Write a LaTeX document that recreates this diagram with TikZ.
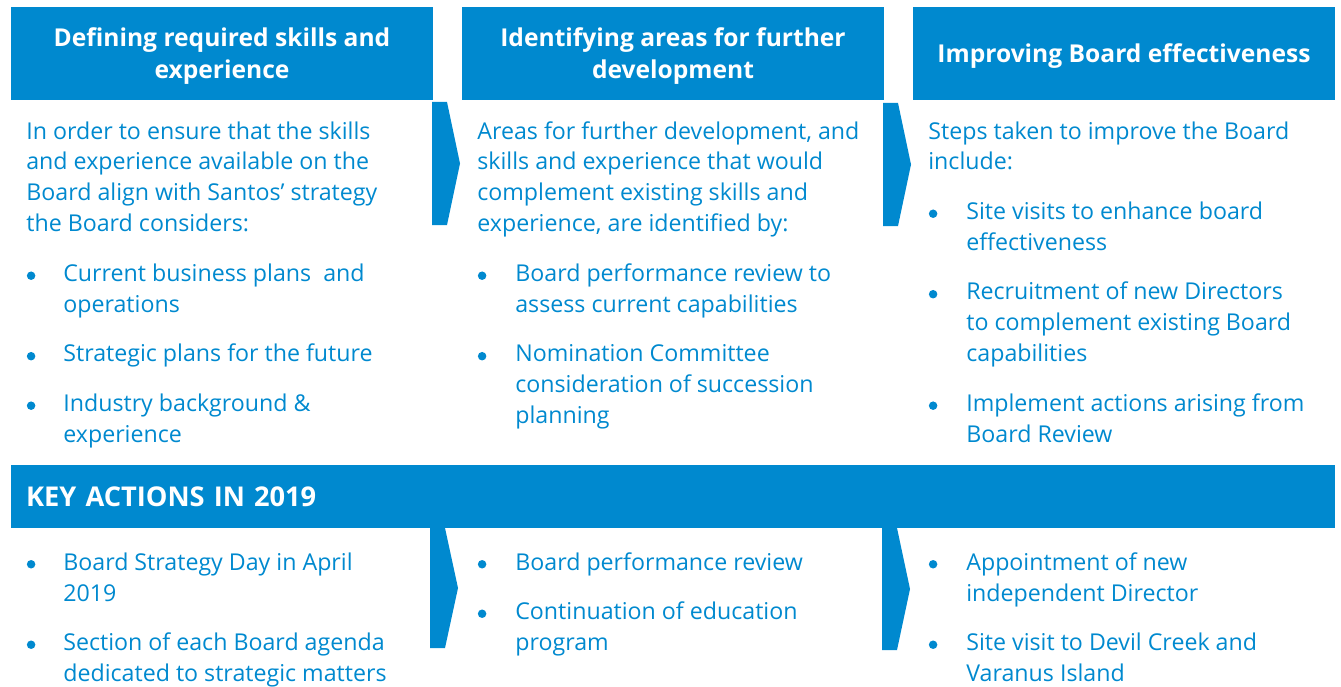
\documentclass[tikz,border=0pt]{standalone}
\usepackage{fontspec}
\setmainfont{Open Sans}
\usepackage{array}
\usetikzlibrary{positioning}
\definecolor{santosblue}{RGB}{0,137,207}
\def\itemgap{0.37cm}
\newcommand{\wide}[1]{\multicolumn{2}{@{}l@{}}{#1}}
\newcommand{\blt}{\hspace{0.01cm}\tikz[baseline=0pt]\fill[santosblue] (0.085cm,0.115cm) circle (0.085cm);}

\begin{document}
\begin{tikzpicture}[x=0.02cm,y=-0.02cm]
    \tikzstyle{headbox}=[fill=santosblue,text=white,font=\fontsize{14}{18.2}\selectfont\bfseries,minimum width=8.44cm,minimum height=1.86cm,align=center,inner sep=0pt,text depth=0pt]
    \tikzstyle{body}=[text=santosblue,font=\fontsize{13.2}{17.64}\selectfont,anchor=base west,inner sep=0pt]
    \tikzstyle{chevron}=[fill=santosblue]

    \useasboundingbox (0,0) rectangle (1341,686);

    % Draw the column headers
    \node[headbox] (head1) at (222,53.5) {Defining required skills and\\experience};
    \node[headbox] (head2) at (673,53.5) {Identifying areas for further\\development};
    \node[headbox] (head3) at (1124,53.5) {Improving Board effectiveness};

    % Draw the key actions bar
    \node[headbox,font=\fontsize{15.5}{18.2}\selectfont\bfseries,minimum width=26.48cm,minimum height=1.26cm,text width=25.88cm,align=left] (keybar) at (673,496.5) {KEY ACTIONS IN 2019};

    % Draw the chevrons between the columns
    \foreach \x / \yt / \yb in {432/102/225, 883/103/226, 430/528/648, 882/528/650}
        \fill[chevron] (\x,\yt) -- ++(15,0) -- ({\x+28},{(\yt+\yb)/2}) -- ({\x+15},\yb) -- (\x,\yb) -- cycle;

    % Text of the upper columns
    \node[body] (intro1) at (26,139) {\begin{tabular}[t]{@{}p{0.74cm}@{}l@{}}
        \wide{In order to ensure that the skills}\\
        \wide{and experience available on the}\\
        \wide{Board align with Santos’ strategy}\\
        \wide{the Board considers:}\\[\itemgap]
        \blt & Current business plans\ \ and\\
             & operations\\[\itemgap]
        \blt & Strategic plans for the future\\[\itemgap]
        \blt & Industry background \&\\
             & experience
    \end{tabular}};
    \node[body] (intro2) at (477,139) {\begin{tabular}[t]{@{}p{0.76cm}@{}l@{}}
        \wide{Areas for further development, and}\\
        \wide{skills and experience that would}\\
        \wide{complement existing skills and}\\
        \wide{experience, are identified by:}\\[\itemgap]
        \blt & Board performance review to\\
             & assess current capabilities\\[\itemgap]
        \blt & Nomination Committee\\
             & consideration of succession\\
             & planning
    \end{tabular}};
    \node[body] (intro3) at (928,139) {\begin{tabular}[t]{@{}p{0.76cm}@{}l@{}}
        \wide{Steps taken to improve the Board}\\
        \wide{include:}\\[\itemgap]
        \blt & Site visits to enhance board\\
             & effectiveness\\[\itemgap]
        \blt & Recruitment of new Directors\\
             & to complement existing Board\\
             & capabilities\\[\itemgap]
        \blt & Implement actions arising from\\
             & Board Review
    \end{tabular}};

    % Text of the key actions columns
    \node[body] (key1) at (26,570) {\begin{tabular}[t]{@{}p{0.74cm}@{}l@{}}
        \blt & Board Strategy Day in April\\
             & 2019\\[\itemgap]
        \blt & Section of each Board agenda\\
             & dedicated to strategic matters
    \end{tabular}};
    \node[body] (key2) at (477,570) {\begin{tabular}[t]{@{}p{0.76cm}@{}l@{}}
        \blt & Board performance review\\[\itemgap]
        \blt & Continuation of education\\
             & program
    \end{tabular}};
    \node[body] (key3) at (928,570) {\begin{tabular}[t]{@{}p{0.76cm}@{}l@{}}
        \blt & Appointment of new\\
             & independent Director\\[\itemgap]
        \blt & Site visit to Devil Creek and\\
             & Varanus Island
    \end{tabular}};
\end{tikzpicture}
\end{document}
